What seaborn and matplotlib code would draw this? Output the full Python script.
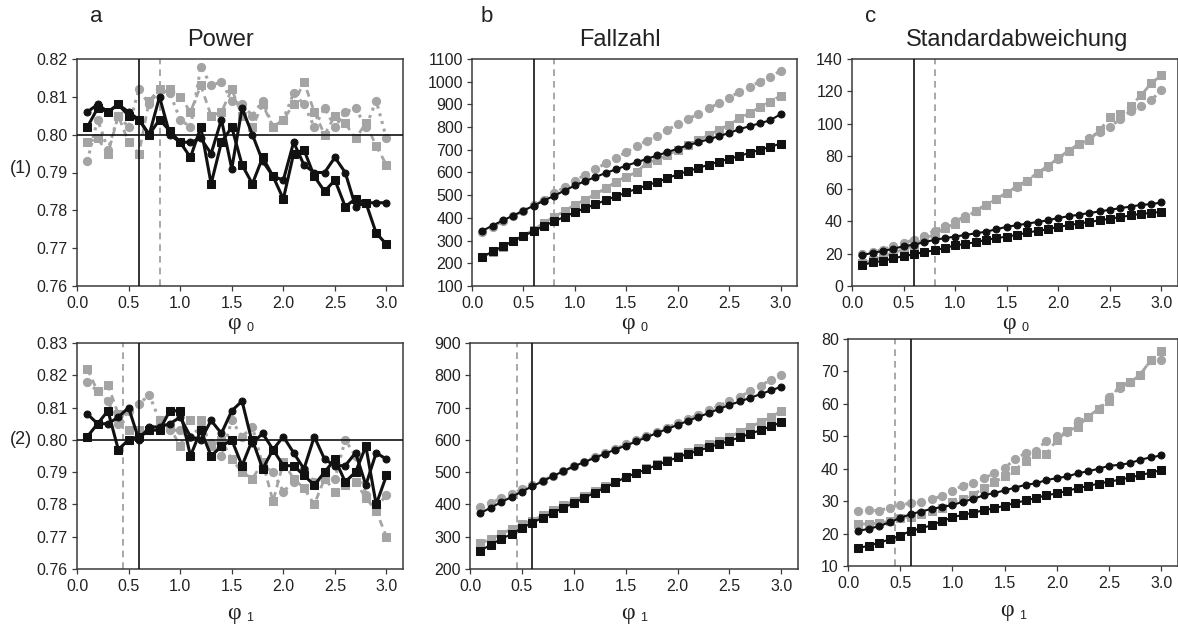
import matplotlib
matplotlib.use("Agg")
import matplotlib.pyplot as plt
import seaborn as sns
from matplotlib.ticker import FormatStrFormatter, MultipleLocator

sns.set_style("ticks")
plt.rcParams['font.family'] = ['Liberation Sans', 'DejaVu Sans']

# ---------------- data ----------------
phi = [0.1, 0.2, 0.3, 0.4, 0.5, 0.6, 0.7, 0.8, 0.9, 1.0,
       1.1, 1.2, 1.3, 1.4, 1.5, 1.6, 1.7, 1.8, 1.9, 2.0,
       2.1, 2.2, 2.3, 2.4, 2.5, 2.6, 2.7, 2.8, 2.9, 3.0]

# Row (1): phi_0 varied
pow1_black_circ = [0.806, 0.808, 0.806, 0.808, 0.806, 0.804, 0.800, 0.810, 0.800, 0.798,
                   0.798, 0.799, 0.795, 0.804, 0.791, 0.807, 0.800, 0.793, 0.789, 0.788,
                   0.798, 0.792, 0.790, 0.790, 0.794, 0.790, 0.781, 0.782, 0.782, 0.782]
pow1_black_sq = [0.802, 0.807, 0.806, 0.808, 0.805, 0.804, 0.800, 0.804, 0.801, 0.798,
                 0.794, 0.802, 0.787, 0.798, 0.802, 0.792, 0.787, 0.794, 0.789, 0.783,
                 0.795, 0.796, 0.789, 0.785, 0.788, 0.781, 0.783, 0.782, 0.774, 0.771]
pow1_gray_circ = [0.793, 0.804, 0.796, 0.805, 0.802, 0.812, 0.808, 0.812, 0.811, 0.804,
                  0.802, 0.818, 0.813, 0.814, 0.809, 0.808, 0.805, 0.809, 0.802, 0.804,
                  0.811, 0.808, 0.802, 0.807, 0.802, 0.806, 0.807, 0.802, 0.809, 0.799]
pow1_gray_sq = [0.798, 0.799, 0.795, 0.805, 0.798, 0.795, 0.809, 0.812, 0.812, 0.810,
                0.806, 0.813, 0.805, 0.806, 0.812, 0.805, 0.802, 0.808, 0.802, 0.804,
                0.808, 0.814, 0.806, 0.800, 0.805, 0.803, 0.799, 0.803, 0.797, 0.792]

n1_black_circ = [343, 366, 389, 410, 432, 454, 476, 498, 520, 543,
                 562, 580, 598, 614, 630, 645, 660, 675, 690, 705,
                 720, 733, 746, 760, 774, 791, 804, 817, 830, 857]
n1_black_sq = [228, 252, 275, 298, 320, 342, 365, 385, 405, 425,
               443, 460, 478, 495, 512, 528, 543, 558, 575, 592,
               606, 620, 634, 648, 660, 673, 687, 700, 713, 727]
n1_gray_circ = [340, 362, 385, 408, 430, 455, 480, 508, 535, 563,
                590, 615, 640, 665, 690, 715, 740, 762, 788, 812,
                835, 858, 882, 905, 930, 955, 978, 1000, 1022, 1048]
n1_gray_sq = [228, 250, 272, 300, 322, 348, 378, 405, 430, 458,
              480, 505, 530, 560, 582, 601, 643, 655, 677, 699,
              720, 742, 765, 788, 810, 838, 862, 888, 912, 938]

sd1_black_circ = [19.0, 20.5, 21.5, 23.0, 24.5, 25.5, 27.0, 28.5, 29.5, 30.5,
                  31.5, 32.5, 33.5, 35.0, 36.5, 37.5, 38.5, 39.5, 40.5, 42.0,
                  43.0, 44.0, 45.0, 46.0, 47.0, 48.0, 49.0, 50.0, 50.5, 51.5]
sd1_black_sq = [13.0, 14.5, 15.5, 17.0, 18.5, 19.5, 21.0, 22.0, 23.5, 25.0,
                26.0, 27.0, 28.5, 29.5, 30.5, 31.5, 33.0, 34.0, 35.0, 36.5,
                37.5, 38.5, 39.5, 40.5, 41.5, 42.5, 43.5, 44.5, 45.0, 45.8]
sd1_gray_circ = [19.5, 21.0, 22.5, 24.5, 26.5, 28.5, 31.0, 34.0, 37.0, 40.0,
                 43.0, 46.5, 50.0, 53.5, 57.5, 61.0, 65.0, 69.5, 73.5, 78.5,
                 83.0, 87.5, 91.5, 95.0, 98.0, 103.0, 108.0, 111.0, 114.5, 121.0]
sd1_gray_sq = [14.0, 16.0, 18.0, 20.5, 22.5, 25.0, 29.0, 32.0, 35.5, 38.5,
               42.0, 46.5, 50.0, 53.5, 57.5, 61.5, 65.0, 70.0, 74.0, 79.0,
               83.5, 87.5, 90.0, 96.0, 104.0, 106.0, 111.0, 117.5, 125.0, 130.0]

# Row (2): phi_1 varied
pow2_black_circ = [0.808, 0.805, 0.805, 0.807, 0.810, 0.800, 0.804, 0.804, 0.805, 0.807,
                   0.801, 0.800, 0.806, 0.802, 0.809, 0.812, 0.799, 0.802, 0.797, 0.801,
                   0.796, 0.791, 0.801, 0.794, 0.792, 0.792, 0.796, 0.786, 0.796, 0.794]
pow2_black_sq = [0.801, 0.805, 0.809, 0.797, 0.800, 0.801, 0.803, 0.803, 0.809, 0.809,
                 0.795, 0.803, 0.795, 0.798, 0.800, 0.792, 0.800, 0.791, 0.797, 0.792,
                 0.792, 0.789, 0.786, 0.790, 0.794, 0.787, 0.790, 0.798, 0.780, 0.789]
pow2_gray_circ = [0.818, 0.815, 0.812, 0.805, 0.809, 0.811, 0.814, 0.806, 0.803, 0.803,
                  0.801, 0.804, 0.799, 0.795, 0.806, 0.801, 0.804, 0.792, 0.790, 0.784,
                  0.787, 0.791, 0.787, 0.788, 0.788, 0.800, 0.795, 0.783, 0.779, 0.783]
pow2_gray_sq = [0.822, 0.815, 0.817, 0.808, 0.803, 0.803, 0.803, 0.806, 0.804, 0.798,
                0.806, 0.806, 0.798, 0.800, 0.794, 0.790, 0.788, 0.793, 0.781, 0.793,
                0.788, 0.785, 0.780, 0.788, 0.784, 0.786, 0.787, 0.782, 0.778, 0.770]

n2_black_circ = [373, 390, 407, 423, 440, 456, 472, 488, 503, 518,
                 531, 544, 557, 570, 582, 595, 608, 621, 634, 646,
                 659, 671, 683, 696, 708, 719, 730, 742, 753, 765]
n2_black_sq = [257, 275, 293, 308, 327, 343, 359, 374, 390, 404,
               420, 436, 452, 468, 484, 497, 509, 522, 534, 546,
               557, 566, 577, 587, 597, 608, 619, 630, 642, 655]
n2_gray_circ = [392, 405, 419, 433, 447, 460, 474, 489, 503, 518,
                532, 546, 559, 572, 586, 599, 612, 625, 638, 651,
                664, 678, 692, 706, 719, 734, 750, 768, 786, 800]
n2_gray_sq = [280, 293, 308, 324, 339, 350, 366, 382, 397, 412,
              427, 441, 456, 470, 484, 498, 512, 525, 538, 551,
              563, 575, 587, 597, 608, 625, 640, 655, 670, 690]

sd2_black_circ = [20.8, 21.5, 22.3, 23.5, 24.8, 26.0, 26.8, 27.6, 28.2, 28.8,
                  29.8, 30.7, 31.8, 32.5, 33.3, 34.2, 35.0, 35.5, 36.5, 37.1,
                  37.6, 38.6, 39.2, 40.0, 40.9, 41.2, 41.7, 42.8, 43.5, 44.1]
sd2_black_sq = [15.5, 16.3, 17.2, 18.2, 19.4, 20.8, 21.6, 22.6, 23.8, 25.0,
                25.8, 26.4, 27.2, 27.8, 28.6, 29.4, 30.2, 31.0, 31.8, 32.4,
                33.2, 34.0, 34.7, 35.4, 36.0, 36.6, 37.3, 38.0, 38.8, 39.6]
sd2_gray_circ = [27.0, 27.2, 27.1, 28.0, 28.8, 29.4, 29.6, 30.7, 31.5, 33.2,
                 34.8, 35.6, 37.0, 38.6, 40.2, 43.0, 44.8, 45.5, 48.7, 50.1,
                 51.2, 54.6, 55.8, 58.5, 62.1, 65.0, 66.6, 69.0, 73.4, 73.4]
sd2_gray_sq = [22.9, 23.0, 23.2, 23.8, 24.7, 25.2, 26.0, 27.0, 28.0, 29.7,
               30.8, 32.0, 34.0, 35.8, 37.6, 39.6, 42.5, 44.6, 44.6, 48.9,
               51.5, 53.0, 56.0, 58.5, 61.0, 65.6, 66.6, 69.0, 73.6, 76.2]

col_titles = ["Power", "Fallzahl", "Standardabweichung"]
col_letters = ["a", "b", "c"]
row_labels = ["(1)", "(2)"]
x_sub = ["0", "1"]

solid_ref = [0.6, 0.6]     # vertical solid reference line per row
dashed_ref = [0.8, 0.45]   # vertical dashed reference line per row
power_ref = 0.80

# ---------------- figure ----------------
W, H = 1178, 627
fig = plt.figure(figsize=(W / 100, H / 100), dpi=100)

def add_ax(l, t, r, b):
    return fig.add_axes([l / W, 1 - b / H, (r - l) / W, (b - t) / H])

GRAY = "#a4a4a4"
SPINE = "#3a3a3a"

panels = [
    ((77, 59, 403, 286), (pow1_black_circ, pow1_black_sq, pow1_gray_circ, pow1_gray_sq), (0.76, 0.82), 0.01, "%.2f", 0, 0),
    ((472, 59, 797, 286), (n1_black_circ, n1_black_sq, n1_gray_circ, n1_gray_sq), (100, 1100), 100, "%d", 0, 1),
    ((852, 59, 1178, 286), (sd1_black_circ, sd1_black_sq, sd1_gray_circ, sd1_gray_sq), (0, 140), 20, "%d", 0, 2),
    ((77, 343, 403, 569), (pow2_black_circ, pow2_black_sq, pow2_gray_circ, pow2_gray_sq), (0.76, 0.83), 0.01, "%.2f", 1, 0),
    ((470, 343, 798, 569), (n2_black_circ, n2_black_sq, n2_gray_circ, n2_gray_sq), (200, 900), 100, "%d", 1, 1),
    ((848, 339, 1178, 566), (sd2_black_circ, sd2_black_sq, sd2_gray_circ, sd2_gray_sq), (10, 80), 10, "%d", 1, 2),
]

for box, (bc, bs, gc, gs), ylim, ystep, yfmt, row, col in panels:
    ax = add_ax(*box)
    is_power = col == 0
    blw = 2.2 if is_power else 1.5
    # gray (dotted/dashed) series first
    sns.lineplot(x=phi, y=gc, ax=ax, color=GRAY, linestyle=(0, (1.0, 1.6)), linewidth=2.2,
                 marker="o", markersize=5.9, markeredgecolor=GRAY, markerfacecolor=GRAY,
                 legend=False, zorder=2)
    sns.lineplot(x=phi, y=gs, ax=ax, color=GRAY, linestyle=(0, (2.5, 1.8)), linewidth=2.0,
                 marker="s", markersize=5.4, markeredgecolor=GRAY, markerfacecolor=GRAY,
                 legend=False, zorder=2)
    sns.lineplot(x=phi, y=bc, ax=ax, color="#111111", linestyle="-", linewidth=blw,
                 marker="o", markersize=5.0, markeredgecolor="#111111", markerfacecolor="#111111",
                 legend=False, zorder=3)
    sns.lineplot(x=phi, y=bs, ax=ax, color="#111111", linestyle="-", linewidth=blw,
                 marker="s", markersize=5.2, markeredgecolor="#111111", markerfacecolor="#111111",
                 legend=False, zorder=3)

    ax.axvline(solid_ref[row], color="#111111", linewidth=1.2, zorder=4)
    ax.axvline(dashed_ref[row], color="#9a9a9a", linewidth=1.2, linestyle=(0, (4, 3)), zorder=1)
    if is_power:
        ax.axhline(power_ref, color="#111111", linewidth=1.2, zorder=4)

    ax.set_xlim(0, 3.16)
    ax.set_ylim(*ylim)
    ax.xaxis.set_major_locator(MultipleLocator(0.5))
    ax.xaxis.set_major_formatter(FormatStrFormatter("%.1f"))
    ax.yaxis.set_major_locator(MultipleLocator(ystep))
    ax.yaxis.set_major_formatter(FormatStrFormatter(yfmt))
    ax.tick_params(axis="both", direction="out", length=3.5, width=0.9, color=SPINE,
                   labelsize=11.5, labelcolor="#222222", pad=3)
    ax.tick_params(axis="x", pad=4)
    for s in ax.spines.values():
        s.set_visible(True)
        s.set_color(SPINE)
        s.set_linewidth(1.1)
    ax.set_xlabel("")
    ax.set_ylabel("")

    # phi axis label with spaced, lowered subscript
    ylab = -0.163 if row == 0 else -0.195
    ax.annotate("φ", xy=(0.5, ylab), xycoords="axes fraction",
                xytext=(-4.5, 0), textcoords="offset points", ha="center", va="center",
                fontsize=17, family=["Liberation Serif", "DejaVu Serif"], color="#222222")
    ax.annotate(x_sub[row], xy=(0.5, ylab), xycoords="axes fraction",
                xytext=(7.0, -3.8), textcoords="offset points", ha="center", va="center",
                fontsize=9, color="#222222")

# titles, letters, row labels
title_x = [220, 620, 1017]
letter_x = [96, 487, 871]
for i in range(3):
    fig.text(title_x[i] / W, 1 - 40 / H, col_titles[i], ha="center", va="center",
             fontsize=17, color="#222222")
    fig.text(letter_x[i] / W, 1 - 16 / H, col_letters[i], ha="center", va="center",
             fontsize=16, color="#222222")
fig.text(21 / W, 1 - 168 / H, row_labels[0], ha="center", va="center", fontsize=13, color="#222222")
fig.text(21 / W, 1 - 439 / H, row_labels[1], ha="center", va="center", fontsize=13, color="#222222")

fig.savefig("out.png", dpi=100)
